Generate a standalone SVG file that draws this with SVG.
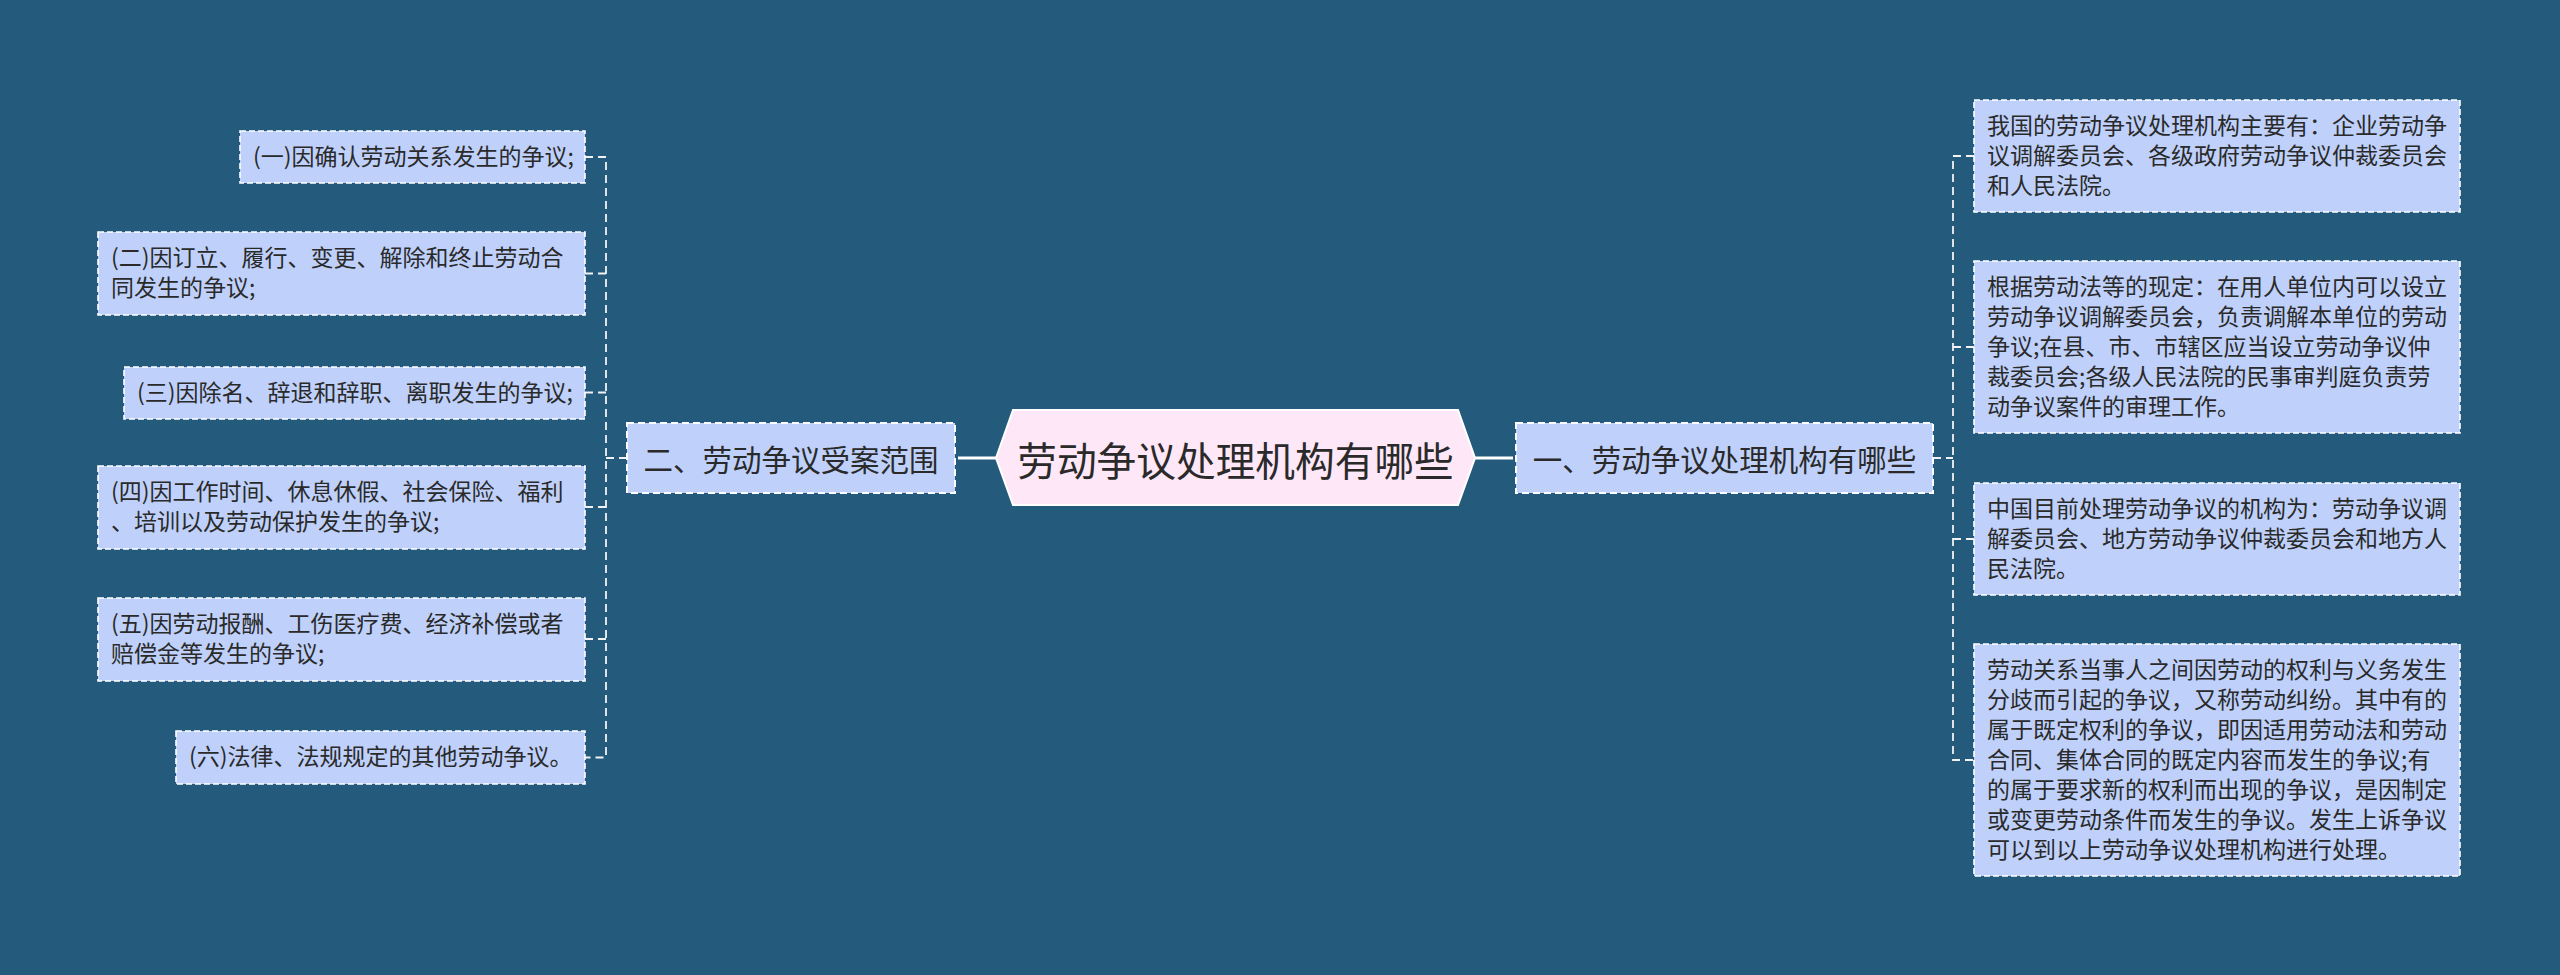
<svg xmlns="http://www.w3.org/2000/svg" width="2560" height="975" viewBox="0 0 2560 975">
<style>
.bg{fill:#245a7b}
.box{fill:#bfd1fb;stroke:#ffffff;stroke-width:1.6;stroke-dasharray:6 3}
.main{fill:#bfd1fb;stroke:#ffffff;stroke-width:2;stroke-dasharray:7 4}
.hex{fill:#fee7f7;stroke:#ffffff;stroke-width:2}
.t{font-family:"Noto Sans CJK SC","Liberation Sans",sans-serif;font-size:23px;fill:#2a2a2a}
.tm{font-family:"Noto Sans CJK SC","Liberation Sans",sans-serif;font-size:29.5px;fill:#2a2a2a;text-anchor:middle;dominant-baseline:central}
.tc{font-family:"Noto Sans CJK SC","Liberation Sans",sans-serif;font-size:39.7px;fill:#2a2a2a;text-anchor:middle;dominant-baseline:central}
.solid{stroke:#ffffff;stroke-width:3;fill:none}
.dash{stroke:#f2f2f2;stroke-width:1.8;fill:none;stroke-dasharray:8 5}
</style>
<rect class="bg" x="0" y="0" width="2560" height="975"/>
<g id="connectors">
<line class="solid" x1="958" y1="458" x2="997" y2="458"/>
<line class="solid" x1="1474" y1="458" x2="1513" y2="458"/>
<path class="dash" d="M585,157 H606 V757.5 H585"/>
<path class="dash" d="M585,273.5 H606 M585,392.5 H606 M585,507 H606 M585,639 H606 M606,458 H627"/>
<path class="dash" d="M1974,156 H1953 V760 H1974"/>
<path class="dash" d="M1974,347 H1953 M1974,539 H1953 M1933,458 H1953"/>
</g>
<g id="center">
<polygon class="hex" points="996,458 1013,410 1458,410 1475,458 1458,505 1013,505"/>
<text class="tc" x="1235.5" y="458">劳动争议处理机构有哪些</text>
</g>
<g id="main-left">
<rect class="main" x="627" y="423" width="328" height="70"/>
<text class="tm" x="791" y="458">二、劳动争议受案范围</text>
</g>
<g id="main-right">
<rect class="main" x="1516" y="423" width="417" height="70"/>
<text class="tm" x="1724.5" y="458">一、劳动争议处理机构有哪些</text>
</g>
<g id="l1">
<rect class="box" x="240" y="131" width="345" height="52"/>
<text class="t" x="253" y="165">(一)因确认劳动关系发生的争议;</text>
</g>
<g id="l2">
<rect class="box" x="98" y="232" width="487" height="83"/>
<text class="t" x="111" y="266">(二)因订立、履行、变更、解除和终止劳动合<tspan x="111" dy="30">同发生的争议;</tspan></text>
</g>
<g id="l3">
<rect class="box" x="124" y="367" width="461" height="52"/>
<text class="t" x="137" y="401">(三)因除名、辞退和辞职、离职发生的争议;</text>
</g>
<g id="l4">
<rect class="box" x="98" y="466" width="487" height="83"/>
<text class="t" x="111" y="500">(四)因工作时间、休息休假、社会保险、福利<tspan x="111" dy="30">、培训以及劳动保护发生的争议;</tspan></text>
</g>
<g id="l5">
<rect class="box" x="98" y="598" width="487" height="83"/>
<text class="t" x="111" y="632">(五)因劳动报酬、工伤医疗费、经济补偿或者<tspan x="111" dy="30">赔偿金等发生的争议;</tspan></text>
</g>
<g id="l6">
<rect class="box" x="176" y="731" width="409" height="53"/>
<text class="t" x="189" y="765">(六)法律、法规规定的其他劳动争议。</text>
</g>
<g id="r1">
<rect class="box" x="1974" y="100" width="486" height="112"/>
<text class="t" x="1987" y="134">我国的劳动争议处理机构主要有：企业劳动争<tspan x="1987" dy="30">议调解委员会、各级政府劳动争议仲裁委员会</tspan><tspan x="1987" dy="30">和人民法院。</tspan></text>
</g>
<g id="r2">
<rect class="box" x="1974" y="261" width="486" height="172"/>
<text class="t" x="1987" y="295">根据劳动法等的现定：在用人单位内可以设立<tspan x="1987" dy="30">劳动争议调解委员会，负责调解本单位的劳动</tspan><tspan x="1987" dy="30">争议;在县、市、市辖区应当设立劳动争议仲</tspan><tspan x="1987" dy="30">裁委员会;各级人民法院的民事审判庭负责劳</tspan><tspan x="1987" dy="30">动争议案件的审理工作。</tspan></text>
</g>
<g id="r3">
<rect class="box" x="1974" y="483" width="486" height="112"/>
<text class="t" x="1987" y="517">中国目前处理劳动争议的机构为：劳动争议调<tspan x="1987" dy="30">解委员会、地方劳动争议仲裁委员会和地方人</tspan><tspan x="1987" dy="30">民法院。</tspan></text>
</g>
<g id="r4">
<rect class="box" x="1974" y="644" width="486" height="232"/>
<text class="t" x="1987" y="678">劳动关系当事人之间因劳动的权利与义务发生<tspan x="1987" dy="30">分歧而引起的争议，又称劳动纠纷。其中有的</tspan><tspan x="1987" dy="30">属于既定权利的争议，即因适用劳动法和劳动</tspan><tspan x="1987" dy="30">合同、集体合同的既定内容而发生的争议;有</tspan><tspan x="1987" dy="30">的属于要求新的权利而出现的争议，是因制定</tspan><tspan x="1987" dy="30">或变更劳动条件而发生的争议。发生上诉争议</tspan><tspan x="1987" dy="30">可以到以上劳动争议处理机构进行处理。</tspan></text>
</g>
</svg>
